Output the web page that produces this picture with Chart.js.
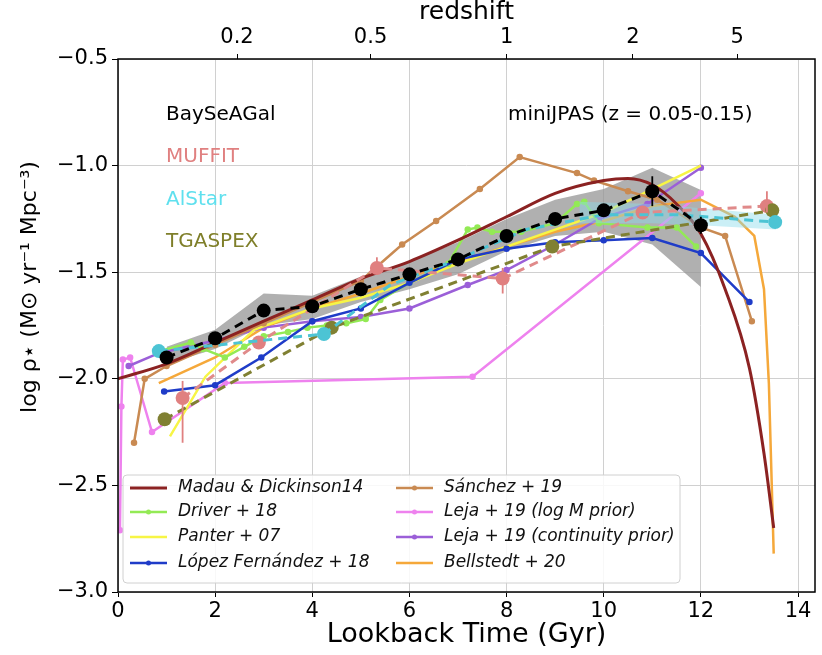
<!DOCTYPE html>
<html>
<head>
<meta charset="utf-8">
<script src="https://cdn.jsdelivr.net/npm/chart.js@4.4.1/dist/chart.umd.min.js"></script>
<style>
  body { margin: 0; background: #fff; }
  #wrap { width: 822px; height: 655px; }
</style>
</head>
<body>
<div id="wrap"><canvas id="sfr"></canvas></div>
<script>
// Lookback time (Gyr) / log SFR density

// model curves
const mdT = [0, 1, 2, 3, 4, 5, 6, 7, 8, 9, 10, 10.5, 11, 11.5, 12, 12.5, 13, 13.3, 13.5];
const mdV = [-2.00, -1.93, -1.83, -1.73, -1.63, -1.53, -1.45, -1.35, -1.24, -1.13, -1.07, -1.06, -1.09, -1.18, -1.32, -1.58, -1.95, -2.35, -2.70];

const sanT = [0.33, 0.55, 1.0, 2.0, 3.0, 4.0, 5.0, 5.35, 5.85, 6.55, 7.45, 8.27, 9.45, 9.8, 10.5, 11.1, 12.0, 12.5, 13.05];
const sanV = [-2.30, -2.00, -1.94, -1.84, -1.74, -1.64, -1.54, -1.47, -1.37, -1.26, -1.11, -0.96, -1.035, -1.07, -1.12, -1.16, -1.29, -1.33, -1.73];

const drT = [0.85, 1.5, 1.75, 2.2, 2.6, 3.0, 3.5, 3.9, 4.3, 4.7, 5.1, 5.4, 6.0, 6.8, 7.2, 7.4, 7.7, 8.3, 9.0, 9.45, 9.6, 9.9, 10.9, 11.5, 11.9];
const drV = [-1.87, -1.83, -1.86, -1.90, -1.85, -1.80, -1.78, -1.76, -1.75, -1.74, -1.72, -1.63, -1.55, -1.46, -1.30, -1.29, -1.31, -1.31, -1.27, -1.18, -1.17, -1.27, -1.29, -1.29, -1.38];

const paT = [1.07, 1.8, 2.3, 2.8, 4, 5, 6, 7, 8, 9, 10, 11, 12];
const paV = [-2.27, -1.99, -1.88, -1.77, -1.67, -1.62, -1.55, -1.46, -1.38, -1.30, -1.22, -1.11, -1.00];

const lfT = [0.95, 2.0, 2.95, 4.0, 5.0, 6.0, 7.0, 8.0, 9.0, 10.0, 11.0, 12.0, 13.0];
const lfV = [-2.06, -2.03, -1.90, -1.73, -1.67, -1.55, -1.44, -1.39, -1.36, -1.35, -1.34, -1.41, -1.64];

const lmT = [0.04, 0.07, 0.1, 0.25, 0.7, 2.2, 7.3, 12.0];
const lmV = [-2.71, -2.13, -1.91, -1.90, -2.25, -2.02, -1.99, -1.13];

const lcT = [0.22, 0.84, 2.0, 3.0, 4.0, 5.0, 6.0, 7.2, 8.0, 9.0, 9.9, 10.9, 12.0];
const lcV = [-1.94, -1.88, -1.82, -1.76, -1.73, -1.71, -1.67, -1.56, -1.49, -1.37, -1.25, -1.18, -1.01];

const beT = [0.84, 2.0, 3.0, 4.0, 5.0, 6.0, 7.0, 8.0, 9.0, 10.0, 11.0, 12.0, 12.7, 13.1, 13.3, 13.4, 13.5];
const beV = [-2.02, -1.90, -1.76, -1.67, -1.60, -1.52, -1.45, -1.38, -1.31, -1.26, -1.19, -1.16, -1.24, -1.33, -1.58, -2.02, -2.82];

// miniJPAS results
const bsT = [1, 2, 3, 4, 5, 6, 7, 8, 9, 10, 11, 12];
const bsV = [-1.90, -1.81, -1.68, -1.66, -1.58, -1.51, -1.44, -1.33, -1.25, -1.21, -1.12, -1.28];
const bsHi = [-1.85, -1.77, -1.60, -1.61, -1.52, -1.45, -1.36, -1.25, -1.16, -1.11, -1.01, -1.115];
const bsLo = [-1.93, -1.86, -1.75, -1.72, -1.64, -1.58, -1.51, -1.40, -1.33, -1.31, -1.37, -1.57];
const bsErr = [0, 0, 0, 0, 0, 0, 0, 0, 0, 0, 0.07, 0.04];

const muT = [1.33, 2.9, 5.33, 7.92, 10.8, 13.36];
const muV = [-2.09, -1.83, -1.48, -1.53, -1.22, -1.19];
const muUp = [0.08, 0, 0.05, 0.05, 0, 0.07];
const muDn = [0.21, 0, 0.03, 0.07, 0, 0.03];

const alT = [0.84, 4.24, 5.6, 7.0, 8.4, 10.0, 11.5, 13.53];
const alV = [-1.87, -1.79, -1.56, -1.44, -1.30, -1.23, -1.23, -1.265];
const alBandT = [9.5, 11, 12, 13.55];
const alBandHi = [-1.17, -1.18, -1.20, -1.23];
const alBandLo = [-1.27, -1.27, -1.28, -1.30];

const tgT = [0.96, 4.4, 8.94, 13.47];
const tgV = [-2.19, -1.76, -1.38, -1.21];

// axes
const xTicks = [0, 2, 4, 6, 8, 10, 12, 14];
const yTicks = [-3.0, -2.5, -2.0, -1.5, -1.0, -0.5];
const zPos = [2.45, 5.2, 8.0, 10.6, 12.75];
const zLabels = ["0.2", "0.5", "1", "2", "5"];

const legendItems = [
  ["Madau & Dickinson14", "#8b2222", false],
  ["Driver + 18", "#93ea55", true],
  ["Panter + 07", "#f7f545", false],
  ["López Fernández + 18", "#1f3cc8", true],
  ["Sánchez + 19", "#c98a52", true],
  ["Leja + 19 (log M prior)", "#ee82ee", true],
  ["Leja + 19 (continuity prior)", "#9b5fd8", true],
  ["Bellstedt + 20", "#f5a83a", false],
];

function pts(xs, ys) {
  return xs.map((x, i) => ({ x: x, y: ys[i] }));
}

function curve(label, xs, ys, color, extra) {
  return Object.assign({
    label: label,
    data: pts(xs, ys),
    borderColor: color,
    backgroundColor: color,
    borderWidth: 2.5,
    pointRadius: 0,
    fill: false,
    order: 10,
  }, extra || {});
}

Chart.defaults.font.family = "'DejaVu Sans', sans-serif";
Chart.defaults.color = "#000";

// error bars, labels, legend and frame
const decorations = {
  id: "decorations",
  afterDatasetsDraw(chart) {
    const { ctx, scales: { x, y } } = chart;
    ctx.save();
    function bars(xs, ys, up, dn, color) {
      ctx.strokeStyle = color;
      ctx.lineWidth = 1.8;
      xs.forEach((t, i) => {
        if (!up[i] && !dn[i]) return;
        const px = x.getPixelForValue(t);
        ctx.beginPath();
        ctx.moveTo(px, y.getPixelForValue(ys[i] + up[i]));
        ctx.lineTo(px, y.getPixelForValue(ys[i] - dn[i]));
        ctx.stroke();
      });
    }
    bars(muT, muV, muUp, muDn, "#e08080");
    bars(bsT, bsV, bsErr, bsErr, "#000");
    ctx.restore();
  },
  afterDraw(chart) {
    const { ctx, chartArea: a } = chart;
    ctx.save();

    // text labels in the plot
    ctx.font = "20px 'DejaVu Sans'";
    ctx.textBaseline = "middle";
    ctx.textAlign = "left";
    [["BaySeAGal", "#000", 115], ["MUFFIT", "#e08080", 157],
     ["AlStar", "#5fe0ee", 200], ["TGASPEX", "#7f7f2a", 242]].forEach(t => {
      ctx.fillStyle = t[1];
      ctx.fillText(t[0], 166, t[2]);
    });
    ctx.fillStyle = "#000";
    ctx.fillText("miniJPAS (z = 0.05-0.15)", 508, 115);

    // legend box
    const lx = 123, ly = 475, lw = 557, lh = 108;
    ctx.fillStyle = "rgba(255,255,255,0.85)";
    ctx.strokeStyle = "#d0d0d0";
    ctx.lineWidth = 1;
    ctx.beginPath();
    ctx.roundRect(lx, ly, lw, lh, 4);
    ctx.fill();
    ctx.stroke();

    ctx.font = "italic 17px 'DejaVu Sans'";
    const rows = [488, 512, 537, 563];
    legendItems.forEach((it, i) => {
      const col = Math.floor(i / 4);
      const x0 = col === 0 ? 130 : 396;
      const yy = rows[i % 4];
      ctx.strokeStyle = it[1];
      ctx.lineWidth = i === 0 ? 3 : 2.5;
      ctx.beginPath();
      ctx.moveTo(x0, yy);
      ctx.lineTo(x0 + 37, yy);
      ctx.stroke();
      if (it[2]) {
        ctx.fillStyle = it[1];
        ctx.beginPath();
        ctx.arc(x0 + 18.5, yy, 2.5, 0, Math.PI * 2);
        ctx.fill();
      }
      ctx.fillStyle = "#111";
      ctx.fillText(it[0], x0 + 48, yy);
    });

    // y axis title
    ctx.translate(30, 287);
    ctx.rotate(-Math.PI / 2);
    ctx.textAlign = "center";
    ctx.font = "22px 'DejaVu Sans'";
    ctx.fillStyle = "#000";
    ctx.fillText("log ρ⋆ (M⊙ yr⁻¹ Mpc⁻³)", 0, 0);
    ctx.setTransform(1, 0, 0, 1, 0, 0);

    // frame
    ctx.strokeStyle = "#000";
    ctx.lineWidth = 1.5;
    ctx.strokeRect(a.left, a.top, a.right - a.left, a.bottom - a.top);
    ctx.restore();
  },
};

const datasets = [
  // BaySeAGal on top
  {
    label: "BaySeAGal",
    data: pts(bsT, bsV),
    borderColor: "#000",
    backgroundColor: "#000",
    borderWidth: 3,
    borderDash: [9, 6],
    pointRadius: 7,
    pointBorderWidth: 0,
    fill: false,
    order: 0,
  },
  {
    label: "AlStar",
    data: pts(alT, alV),
    borderColor: "#4cc4d4",
    backgroundColor: "#4cc4d4",
    borderWidth: 3,
    borderDash: [9, 6],
    pointRadius: [7, 7, 0, 0, 0, 0, 0, 7],
    pointBorderWidth: 0,
    fill: false,
    order: 1,
  },
  {
    label: "TGASPEX",
    data: pts(tgT, tgV),
    borderColor: "#808032",
    backgroundColor: "#808032",
    borderWidth: 3,
    borderDash: [9, 6],
    pointRadius: 7,
    pointBorderWidth: 0,
    fill: false,
    order: 2,
  },
  {
    label: "MUFFIT",
    data: pts(muT, muV),
    borderColor: "#e08a8a",
    backgroundColor: "#e08080",
    borderWidth: 3,
    borderDash: [9, 6],
    pointRadius: 7,
    pointBorderWidth: 0,
    fill: false,
    order: 3,
  },
  // AlStar uncertainty band
  {
    label: "alHi",
    data: pts(alBandT, alBandHi),
    borderWidth: 0,
    pointRadius: 0,
    fill: false,
    order: 4,
  },
  {
    label: "alLo",
    data: pts(alBandT, alBandLo),
    borderWidth: 0,
    pointRadius: 0,
    fill: "-1",
    backgroundColor: "rgba(140, 220, 235, 0.45)",
    order: 4,
  },
  curve("Madau & Dickinson14", mdT, mdV, "#8b2222", { borderWidth: 3, cubicInterpolationMode: "monotone", order: 6 }),
  curve("López Fernández + 18", lfT, lfV, "#1f3cc8", { pointRadius: 2, order: 7 }),
  curve("Driver + 18", drT, drV, "#93ea55", { pointRadius: 2, order: 8 }),
  curve("Sánchez + 19", sanT, sanV, "#c98a52", { pointRadius: 2, order: 9 }),
  curve("Panter + 07", paT, paV, "#f7f545", { order: 10 }),
  curve("Leja + 19 (continuity prior)", lcT, lcV, "#9b5fd8", { pointRadius: 2, order: 11 }),
  curve("Bellstedt + 20", beT, beV, "#f5a83a", { order: 12 }),
  curve("Leja + 19 (log M prior)", lmT, lmV, "#ee82ee", { pointRadius: 2, order: 13 }),
  // BaySeAGal shaded range, at the bottom
  {
    label: "bsHi",
    data: pts(bsT, bsHi),
    borderWidth: 0,
    pointRadius: 0,
    fill: false,
    order: 20,
  },
  {
    label: "bsLo",
    data: pts(bsT, bsLo),
    borderWidth: 0,
    pointRadius: 0,
    fill: "-1",
    backgroundColor: "rgba(150, 150, 150, 0.75)",
    order: 20,
  },
];

new Chart(document.getElementById("sfr"), {
  type: "line",
  data: { datasets: datasets },
  options: {
    responsive: true,
    maintainAspectRatio: false,
    devicePixelRatio: 1,
    animation: false,
    layout: { padding: { left: 0, right: 2, top: 0, bottom: 0 } },
    plugins: {
      legend: { display: false },
      tooltip: { enabled: false },
    },
    scales: {
      x: {
        type: "linear",
        position: "bottom",
        min: 0,
        max: 14.35,
        afterBuildTicks: (s) => { s.ticks = xTicks.map(v => ({ value: v })); },
        afterFit: (s) => { s.height = 63; },
        ticks: { font: { size: 21 }, color: "#000", padding: 2, maxRotation: 0 },
        grid: { color: "#d0d0d0", tickColor: "#000", tickLength: 5 },
        border: { display: false },
        title: { display: true, text: "Lookback Time (Gyr)", font: { size: 27 }, color: "#000", padding: { top: 0, bottom: 4 } },
      },
      x2: {
        type: "linear",
        position: "top",
        min: 0,
        max: 14.35,
        afterBuildTicks: (s) => { s.ticks = zPos.map(v => ({ value: v })); },
        afterFit: (s) => { s.height = 59; },
        ticks: { font: { size: 21 }, color: "#000", padding: 4, maxRotation: 0, callback: (v, i) => zLabels[i] },
        grid: { drawOnChartArea: false, tickColor: "#000", tickLength: 5 },
        border: { display: false },
        title: { display: true, text: "redshift", font: { size: 25 }, color: "#000", padding: { top: -3, bottom: 0 } },
      },
      y: {
        type: "linear",
        min: -3,
        max: -0.5,
        afterBuildTicks: (s) => { s.ticks = yTicks.map(v => ({ value: v })); },
        afterFit: (s) => { s.width = 118; },
        ticks: {
          font: { size: 21 },
          color: "#000",
          padding: 4,
          callback: (v) => v.toFixed(1).replace("-", "\u2212"),
        },
        grid: { color: "#d0d0d0", tickColor: "#000", tickLength: 6 },
        border: { display: false },
      },
    },
  },
  plugins: [decorations],
});
</script>
</body>
</html>
